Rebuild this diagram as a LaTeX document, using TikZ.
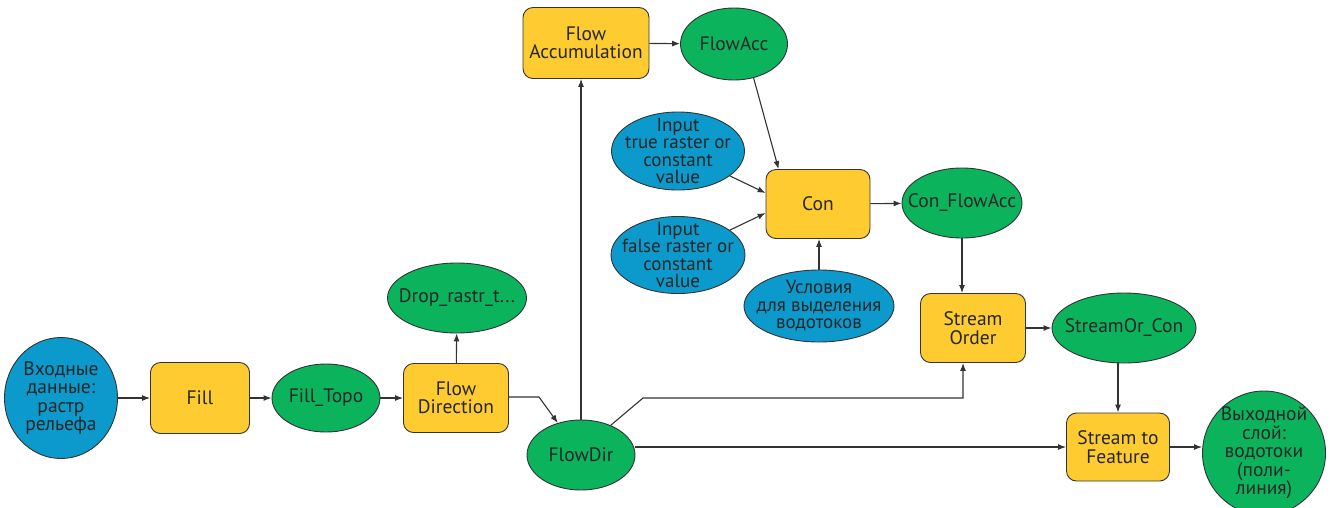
\documentclass[tikz,border=0pt]{standalone}
\usepackage{fontspec}
\setmainfont{PT Sans}
\usetikzlibrary{shapes.geometric,arrows.meta,calc}
\definecolor{cblue}{HTML}{0B9ACB}
\definecolor{cgreen}{HTML}{0BB35D}
\definecolor{cyellow}{HTML}{FECC30}
\definecolor{cline}{HTML}{333333}
\definecolor{ctext}{HTML}{262626}
\begin{document}
\begin{tikzpicture}[x=1pt,y=-1pt,
  box/.style={draw=cline, line width=0.9pt, fill=cyellow, rounded corners=10pt, inner sep=0pt,
    text=ctext, align=center, font=\fontsize{19.5}{18.5}\selectfont},
  ell/.style={draw=cline, line width=0.9pt, ellipse, inner sep=0pt},
  bl/.style={ell, fill=cblue},
  gr/.style={ell, fill=cgreen},
  lbl/.style={text=ctext, align=center, inner sep=0pt, font=\fontsize{19.5}{18.5}\selectfont},
  lbls/.style={text=ctext, align=center, inner sep=0pt, font=\fontsize{19}{17.5}\selectfont},
  arr/.style={draw=cline, line width=1.1pt, -{Latex[length=8pt,width=6pt]}}]
\useasboundingbox (0,0) rectangle (1330,507);

% nodes
\node[bl, minimum width=113pt, minimum height=121pt] (in) at (61,398) {};
\node[lbl] (in-t) at (in) {Входные\\данные:\\растр\\рельефа};
\node[box, minimum width=99pt, minimum height=71pt] (fill) at (200,398) {Fill};
\node[gr, minimum width=108pt, minimum height=68pt] (fillt) at (326,398) {};
\node[lbl] (fillt-t) at (fillt) {Fill\_Topo};
\node[box, minimum width=105pt, minimum height=69pt] (fd) at (456,398) {Flow\\Direction};
\node[gr, minimum width=139pt, minimum height=70pt] (drop) at (457,298) {};
\node[lbl] (drop-t) at (drop) {Drop\_rastr\_t...};
\node[gr, minimum width=108pt, minimum height=70pt] (fdir) at (581,455) {};
\node[lbl] (fdir-t) at (fdir) {FlowDir};
\node[box, minimum width=126pt, minimum height=71pt] (facc) at (586,43) {Flow\\Accumulation};
\node[gr, minimum width=107pt, minimum height=72pt] (faccE) at (734,44) {};
\node[lbl] (faccE-t) at (faccE) {FlowAcc};
\node[bl, minimum width=133pt, minimum height=78pt] (inT) at (678,151) {};
\node[lbls] (inT-t) at (inT) {Input\\true raster or\\constant\\value};
\node[bl, minimum width=134pt, minimum height=77pt] (inF) at (678,255) {};
\node[lbls] (inF-t) at (inF) {Input\\false raster or\\constant\\value};
\node[box, minimum width=104pt, minimum height=69pt] (con) at (818,204) {Con};
\node[bl, minimum width=150pt, minimum height=72pt] (cond) at (819,306) {};
\node[lbls] (cond-t) at (cond) {Условия\\для выделения\\водотоков};
\node[gr, minimum width=120pt, minimum height=70pt] (conFA) at (962,203) {};
\node[lbl] (conFA-t) at (conFA) {Con\_FlowAcc};
\node[box, minimum width=105pt, minimum height=69pt] (so) at (973,328) {Stream\\Order};
\node[gr, minimum width=144pt, minimum height=70pt] (soc) at (1124,328) {};
\node[lbl] (soc-t) at (soc) {StreamOr\_Con};
\node[box, minimum width=103pt, minimum height=68pt] (stf) at (1118,447) {Stream to\\Feature};
\node[gr, minimum width=123pt, minimum height=124pt] (out) at (1264,453) {};
\node[lbl] (out-t) at (out) {Выходной\\слой:\\водотоки\\(поли-\\линия)};

% bend points
\coordinate (b1) at (539,397);
\coordinate (b2) at (643,398);
\coordinate (b3) at (963,398);

% connectors
\draw[arr] (in) -- (fill);
\draw[arr] (fill) -- (fillt);
\draw[arr] (fillt) -- (fd);
\draw[arr] (fd) -- (drop);
\draw[arr] (fd.east |- b1) -- (b1) -- (fdir);
\draw[arr] (fdir.north) -- (fdir.north |- facc.south);
\draw[arr] (fdir.45) -- (b2) -- (b3) -- (b3 |- so.south);
\draw[arr] (fdir.east |- stf) -- (stf);
\draw[arr] (facc) -- (faccE);
\draw[arr] (faccE.-60) -- ([xshift=13pt]con.north west);
\draw[arr] (inT) -- ([yshift=11pt]con.west);
\draw[arr] (inF) -- ([yshift=-9pt]con.west);
\draw[arr] (cond) -- (cond |- con.south);
\draw[arr] (con) -- (conFA);
\draw[arr] (conFA.south) -- (conFA.south |- so.north);
\draw[arr] (so) -- (soc);
\draw[arr] (stf.north |- soc.south) -- (stf.north);
\draw[arr] (stf) -- (stf -| out.west);
\end{tikzpicture}
\end{document}
